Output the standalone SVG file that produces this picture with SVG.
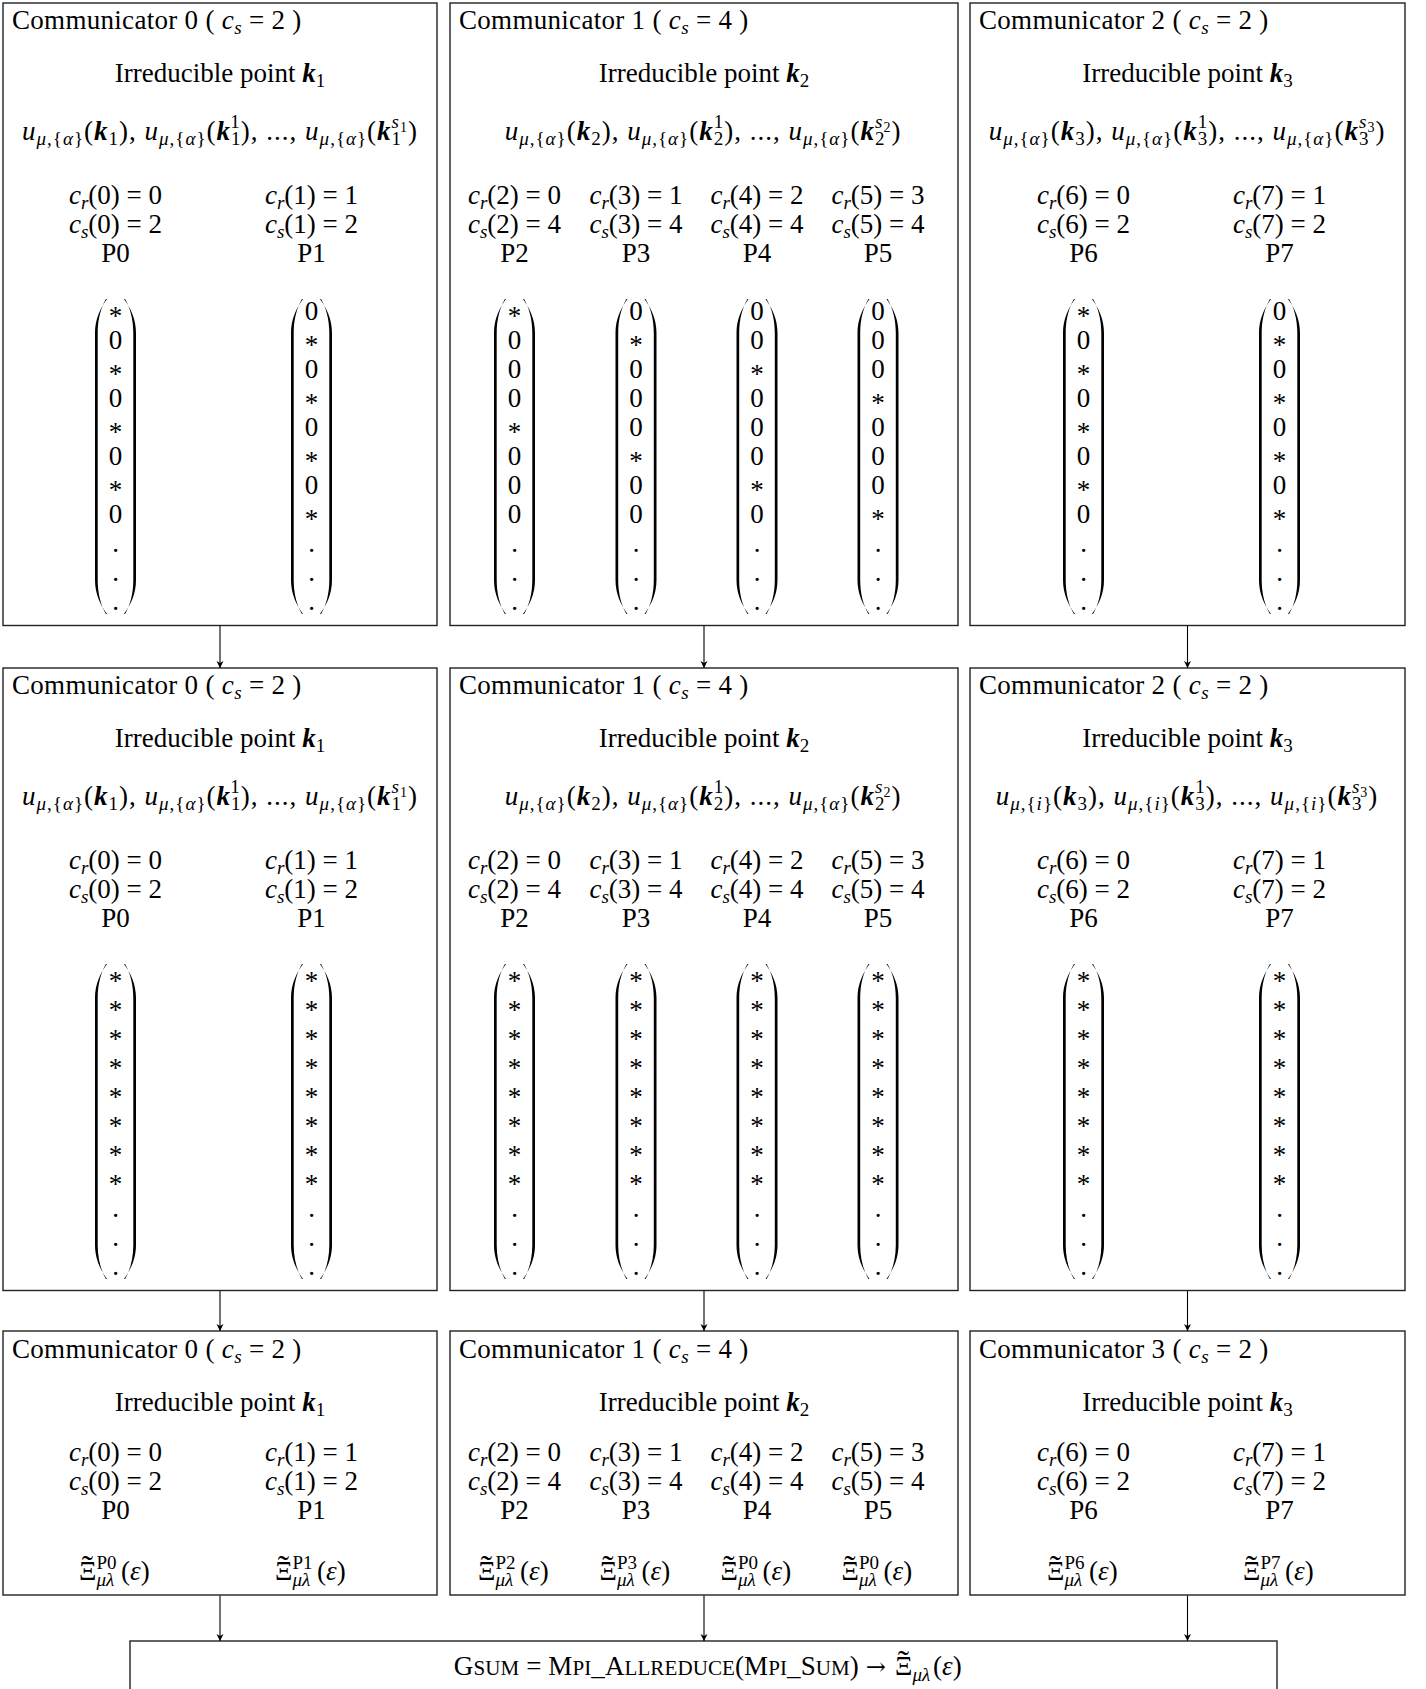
<svg xmlns="http://www.w3.org/2000/svg" width="1426" height="1689" viewBox="0 0 1426 1689">
<style>
.t{font-family:"Liberation Serif","Times New Roman",serif;font-size:27px;fill:#000}
.m{text-anchor:middle}
.i{font-style:italic}
.b{font-style:italic;font-weight:bold}
.s{font-size:19px}
.ss{font-size:14px}
.sc{font-size:21px}
.ul{text-anchor:middle;letter-spacing:1px}
.ttl{letter-spacing:0.3px}
.tl{font-size:34px}
.fin{letter-spacing:0.1px}
.arr{font-family:"DejaVu Serif",serif;font-size:24px}
.box{fill:#fff;stroke:#222;stroke-width:1.4}
.con line{stroke:#000;stroke-width:1.1;marker-end:url(#ah)}
.par{fill:#000}
</style>
<defs>
<path id="lp" class="par" d="M-8.5,0 C-15,9 -20.5,20 -20.5,34 L-20.5,281 C-20.5,295 -15,306 -8.5,315 L-9.6,315 C-14.6,306 -17.8,295 -17.8,281 L-17.8,34 C-17.8,20 -14.6,9 -9.6,0 Z"/>
<path id="rp" class="par" d="M8.5,0 C15,9 20.5,20 20.5,34 L20.5,281 C20.5,295 15,306 8.5,315 L9.6,315 C14.6,306 17.8,295 17.8,281 L17.8,34 C17.8,20 14.6,9 9.6,0 Z"/>
<marker id="ah" markerWidth="8" markerHeight="8" refX="7" refY="3.5" orient="auto" markerUnits="userSpaceOnUse"><path d="M0,0 L7,3.5 L0,7 L2,3.5 Z" fill="#000"/></marker>
</defs>
<rect x="0" y="0" width="1426" height="1689" fill="#fff"/>

<!-- ROW 1 -->
<g id="r1-comm0">
<rect class="box" x="3" y="3" width="434" height="622.5"/>
<text class="t ttl" x="12" y="28.5">Communicator 0 ( <tspan class="i">c</tspan><tspan class="s i" dy="5">s</tspan><tspan dy="-5"> = 2 )</tspan></text>
<text class="t m" x="220" y="82">Irreducible point <tspan class="b">k</tspan><tspan class="s" dy="5">1</tspan></text>
<text class="t ul" x="220" y="140"><tspan class="i">u</tspan><tspan class="s i" dy="5">μ</tspan><tspan class="s">,{</tspan><tspan class="s i">α</tspan><tspan class="s">}</tspan><tspan dy="-5">(</tspan><tspan class="b">k</tspan><tspan class="s" dy="5">1</tspan><tspan dy="-5">), </tspan><tspan class="i">u</tspan><tspan class="s i" dy="5">μ</tspan><tspan class="s">,{</tspan><tspan class="s i">α</tspan><tspan class="s">}</tspan><tspan dy="-5">(</tspan><tspan class="b">k</tspan><tspan class="s" dy="5">1</tspan><tspan class="s" dx="-10.5" dy="-17">1</tspan><tspan dy="12">), ..., </tspan><tspan class="i">u</tspan><tspan class="s i" dy="5">μ</tspan><tspan class="s">,{</tspan><tspan class="s i">α</tspan><tspan class="s">}</tspan><tspan dy="-5">(</tspan><tspan class="b">k</tspan><tspan class="s" dy="5">1</tspan><tspan class="s i" dx="-10.5" dy="-17">s</tspan><tspan class="ss" dy="4">1</tspan><tspan dy="8">)</tspan></text>
<text class="t m" x="115.5" y="204"><tspan class="i">c</tspan><tspan class="s i" dy="5">r</tspan><tspan dy="-5">(0) = 0</tspan></text>
<text class="t m" x="115.5" y="233"><tspan class="i">c</tspan><tspan class="s i" dy="5">s</tspan><tspan dy="-5">(0) = 2</tspan></text>
<text class="t m" x="115.5" y="262">P0</text>
<text class="t m" x="311.5" y="204"><tspan class="i">c</tspan><tspan class="s i" dy="5">r</tspan><tspan dy="-5">(1) = 1</tspan></text>
<text class="t m" x="311.5" y="233"><tspan class="i">c</tspan><tspan class="s i" dy="5">s</tspan><tspan dy="-5">(1) = 2</tspan></text>
<text class="t m" x="311.5" y="262">P1</text>
<use href="#lp" x="115.5" y="299"/><use href="#rp" x="115.5" y="299"/>
<text class="t m"><tspan x="115.5" y="325">*</tspan><tspan x="115.5" y="349">0</tspan><tspan x="115.5" y="383">*</tspan><tspan x="115.5" y="407">0</tspan><tspan x="115.5" y="441">*</tspan><tspan x="115.5" y="465">0</tspan><tspan x="115.5" y="499">*</tspan><tspan x="115.5" y="523">0</tspan><tspan x="115.5" y="552">.</tspan><tspan x="115.5" y="581">.</tspan><tspan x="115.5" y="610">.</tspan></text>
<use href="#lp" x="311.5" y="299"/><use href="#rp" x="311.5" y="299"/>
<text class="t m"><tspan x="311.5" y="320">0</tspan><tspan x="311.5" y="354">*</tspan><tspan x="311.5" y="378">0</tspan><tspan x="311.5" y="412">*</tspan><tspan x="311.5" y="436">0</tspan><tspan x="311.5" y="470">*</tspan><tspan x="311.5" y="494">0</tspan><tspan x="311.5" y="528">*</tspan><tspan x="311.5" y="552">.</tspan><tspan x="311.5" y="581">.</tspan><tspan x="311.5" y="610">.</tspan></text>
</g>

<g id="r1-comm1">
<rect class="box" x="450" y="3" width="508" height="622.5"/>
<text class="t ttl" x="459" y="28.5">Communicator 1 ( <tspan class="i">c</tspan><tspan class="s i" dy="5">s</tspan><tspan dy="-5"> = 4 )</tspan></text>
<text class="t m" x="704" y="82">Irreducible point <tspan class="b">k</tspan><tspan class="s" dy="5">2</tspan></text>
<text class="t ul" x="703" y="140"><tspan class="i">u</tspan><tspan class="s i" dy="5">μ</tspan><tspan class="s">,{</tspan><tspan class="s i">α</tspan><tspan class="s">}</tspan><tspan dy="-5">(</tspan><tspan class="b">k</tspan><tspan class="s" dy="5">2</tspan><tspan dy="-5">), </tspan><tspan class="i">u</tspan><tspan class="s i" dy="5">μ</tspan><tspan class="s">,{</tspan><tspan class="s i">α</tspan><tspan class="s">}</tspan><tspan dy="-5">(</tspan><tspan class="b">k</tspan><tspan class="s" dy="5">2</tspan><tspan class="s" dx="-10.5" dy="-17">1</tspan><tspan dy="12">), ..., </tspan><tspan class="i">u</tspan><tspan class="s i" dy="5">μ</tspan><tspan class="s">,{</tspan><tspan class="s i">α</tspan><tspan class="s">}</tspan><tspan dy="-5">(</tspan><tspan class="b">k</tspan><tspan class="s" dy="5">2</tspan><tspan class="s i" dx="-10.5" dy="-17">s</tspan><tspan class="ss" dy="4">2</tspan><tspan dy="8">)</tspan></text>
<text class="t m" x="514.5" y="204"><tspan class="i">c</tspan><tspan class="s i" dy="5">r</tspan><tspan dy="-5">(2) = 0</tspan></text>
<text class="t m" x="514.5" y="233"><tspan class="i">c</tspan><tspan class="s i" dy="5">s</tspan><tspan dy="-5">(2) = 4</tspan></text>
<text class="t m" x="514.5" y="262">P2</text>
<text class="t m" x="636" y="204"><tspan class="i">c</tspan><tspan class="s i" dy="5">r</tspan><tspan dy="-5">(3) = 1</tspan></text>
<text class="t m" x="636" y="233"><tspan class="i">c</tspan><tspan class="s i" dy="5">s</tspan><tspan dy="-5">(3) = 4</tspan></text>
<text class="t m" x="636" y="262">P3</text>
<text class="t m" x="757" y="204"><tspan class="i">c</tspan><tspan class="s i" dy="5">r</tspan><tspan dy="-5">(4) = 2</tspan></text>
<text class="t m" x="757" y="233"><tspan class="i">c</tspan><tspan class="s i" dy="5">s</tspan><tspan dy="-5">(4) = 4</tspan></text>
<text class="t m" x="757" y="262">P4</text>
<text class="t m" x="878" y="204"><tspan class="i">c</tspan><tspan class="s i" dy="5">r</tspan><tspan dy="-5">(5) = 3</tspan></text>
<text class="t m" x="878" y="233"><tspan class="i">c</tspan><tspan class="s i" dy="5">s</tspan><tspan dy="-5">(5) = 4</tspan></text>
<text class="t m" x="878" y="262">P5</text>
<use href="#lp" x="514.5" y="299"/><use href="#rp" x="514.5" y="299"/>
<text class="t m"><tspan x="514.5" y="325">*</tspan><tspan x="514.5" y="349">0</tspan><tspan x="514.5" y="378">0</tspan><tspan x="514.5" y="407">0</tspan><tspan x="514.5" y="441">*</tspan><tspan x="514.5" y="465">0</tspan><tspan x="514.5" y="494">0</tspan><tspan x="514.5" y="523">0</tspan><tspan x="514.5" y="552">.</tspan><tspan x="514.5" y="581">.</tspan><tspan x="514.5" y="610">.</tspan></text>
<use href="#lp" x="636" y="299"/><use href="#rp" x="636" y="299"/>
<text class="t m"><tspan x="636" y="320">0</tspan><tspan x="636" y="354">*</tspan><tspan x="636" y="378">0</tspan><tspan x="636" y="407">0</tspan><tspan x="636" y="436">0</tspan><tspan x="636" y="470">*</tspan><tspan x="636" y="494">0</tspan><tspan x="636" y="523">0</tspan><tspan x="636" y="552">.</tspan><tspan x="636" y="581">.</tspan><tspan x="636" y="610">.</tspan></text>
<use href="#lp" x="757" y="299"/><use href="#rp" x="757" y="299"/>
<text class="t m"><tspan x="757" y="320">0</tspan><tspan x="757" y="349">0</tspan><tspan x="757" y="383">*</tspan><tspan x="757" y="407">0</tspan><tspan x="757" y="436">0</tspan><tspan x="757" y="465">0</tspan><tspan x="757" y="499">*</tspan><tspan x="757" y="523">0</tspan><tspan x="757" y="552">.</tspan><tspan x="757" y="581">.</tspan><tspan x="757" y="610">.</tspan></text>
<use href="#lp" x="878" y="299"/><use href="#rp" x="878" y="299"/>
<text class="t m"><tspan x="878" y="320">0</tspan><tspan x="878" y="349">0</tspan><tspan x="878" y="378">0</tspan><tspan x="878" y="412">*</tspan><tspan x="878" y="436">0</tspan><tspan x="878" y="465">0</tspan><tspan x="878" y="494">0</tspan><tspan x="878" y="528">*</tspan><tspan x="878" y="552">.</tspan><tspan x="878" y="581">.</tspan><tspan x="878" y="610">.</tspan></text>
</g>

<g id="r1-comm2">
<rect class="box" x="970" y="3" width="435" height="622.5"/>
<text class="t ttl" x="979" y="28.5">Communicator 2 ( <tspan class="i">c</tspan><tspan class="s i" dy="5">s</tspan><tspan dy="-5"> = 2 )</tspan></text>
<text class="t m" x="1187.5" y="82">Irreducible point <tspan class="b">k</tspan><tspan class="s" dy="5">3</tspan></text>
<text class="t ul" x="1187" y="140"><tspan class="i">u</tspan><tspan class="s i" dy="5">μ</tspan><tspan class="s">,{</tspan><tspan class="s i">α</tspan><tspan class="s">}</tspan><tspan dy="-5">(</tspan><tspan class="b">k</tspan><tspan class="s" dy="5">3</tspan><tspan dy="-5">), </tspan><tspan class="i">u</tspan><tspan class="s i" dy="5">μ</tspan><tspan class="s">,{</tspan><tspan class="s i">α</tspan><tspan class="s">}</tspan><tspan dy="-5">(</tspan><tspan class="b">k</tspan><tspan class="s" dy="5">3</tspan><tspan class="s" dx="-10.5" dy="-17">1</tspan><tspan dy="12">), ..., </tspan><tspan class="i">u</tspan><tspan class="s i" dy="5">μ</tspan><tspan class="s">,{</tspan><tspan class="s i">α</tspan><tspan class="s">}</tspan><tspan dy="-5">(</tspan><tspan class="b">k</tspan><tspan class="s" dy="5">3</tspan><tspan class="s i" dx="-10.5" dy="-17">s</tspan><tspan class="ss" dy="4">3</tspan><tspan dy="8">)</tspan></text>
<text class="t m" x="1083.5" y="204"><tspan class="i">c</tspan><tspan class="s i" dy="5">r</tspan><tspan dy="-5">(6) = 0</tspan></text>
<text class="t m" x="1083.5" y="233"><tspan class="i">c</tspan><tspan class="s i" dy="5">s</tspan><tspan dy="-5">(6) = 2</tspan></text>
<text class="t m" x="1083.5" y="262">P6</text>
<text class="t m" x="1279.5" y="204"><tspan class="i">c</tspan><tspan class="s i" dy="5">r</tspan><tspan dy="-5">(7) = 1</tspan></text>
<text class="t m" x="1279.5" y="233"><tspan class="i">c</tspan><tspan class="s i" dy="5">s</tspan><tspan dy="-5">(7) = 2</tspan></text>
<text class="t m" x="1279.5" y="262">P7</text>
<use href="#lp" x="1083.5" y="299"/><use href="#rp" x="1083.5" y="299"/>
<text class="t m"><tspan x="1083.5" y="325">*</tspan><tspan x="1083.5" y="349">0</tspan><tspan x="1083.5" y="383">*</tspan><tspan x="1083.5" y="407">0</tspan><tspan x="1083.5" y="441">*</tspan><tspan x="1083.5" y="465">0</tspan><tspan x="1083.5" y="499">*</tspan><tspan x="1083.5" y="523">0</tspan><tspan x="1083.5" y="552">.</tspan><tspan x="1083.5" y="581">.</tspan><tspan x="1083.5" y="610">.</tspan></text>
<use href="#lp" x="1279.5" y="299"/><use href="#rp" x="1279.5" y="299"/>
<text class="t m"><tspan x="1279.5" y="320">0</tspan><tspan x="1279.5" y="354">*</tspan><tspan x="1279.5" y="378">0</tspan><tspan x="1279.5" y="412">*</tspan><tspan x="1279.5" y="436">0</tspan><tspan x="1279.5" y="470">*</tspan><tspan x="1279.5" y="494">0</tspan><tspan x="1279.5" y="528">*</tspan><tspan x="1279.5" y="552">.</tspan><tspan x="1279.5" y="581">.</tspan><tspan x="1279.5" y="610">.</tspan></text>
</g>

<!-- ROW 2 -->
<g id="r2-comm0">
<rect class="box" x="3" y="668" width="434" height="622.5"/>
<text class="t ttl" x="12" y="693.5">Communicator 0 ( <tspan class="i">c</tspan><tspan class="s i" dy="5">s</tspan><tspan dy="-5"> = 2 )</tspan></text>
<text class="t m" x="220" y="747">Irreducible point <tspan class="b">k</tspan><tspan class="s" dy="5">1</tspan></text>
<text class="t ul" x="220" y="805"><tspan class="i">u</tspan><tspan class="s i" dy="5">μ</tspan><tspan class="s">,{</tspan><tspan class="s i">α</tspan><tspan class="s">}</tspan><tspan dy="-5">(</tspan><tspan class="b">k</tspan><tspan class="s" dy="5">1</tspan><tspan dy="-5">), </tspan><tspan class="i">u</tspan><tspan class="s i" dy="5">μ</tspan><tspan class="s">,{</tspan><tspan class="s i">α</tspan><tspan class="s">}</tspan><tspan dy="-5">(</tspan><tspan class="b">k</tspan><tspan class="s" dy="5">1</tspan><tspan class="s" dx="-10.5" dy="-17">1</tspan><tspan dy="12">), ..., </tspan><tspan class="i">u</tspan><tspan class="s i" dy="5">μ</tspan><tspan class="s">,{</tspan><tspan class="s i">α</tspan><tspan class="s">}</tspan><tspan dy="-5">(</tspan><tspan class="b">k</tspan><tspan class="s" dy="5">1</tspan><tspan class="s i" dx="-10.5" dy="-17">s</tspan><tspan class="ss" dy="4">1</tspan><tspan dy="8">)</tspan></text>
<text class="t m" x="115.5" y="869"><tspan class="i">c</tspan><tspan class="s i" dy="5">r</tspan><tspan dy="-5">(0) = 0</tspan></text>
<text class="t m" x="115.5" y="898"><tspan class="i">c</tspan><tspan class="s i" dy="5">s</tspan><tspan dy="-5">(0) = 2</tspan></text>
<text class="t m" x="115.5" y="927">P0</text>
<text class="t m" x="311.5" y="869"><tspan class="i">c</tspan><tspan class="s i" dy="5">r</tspan><tspan dy="-5">(1) = 1</tspan></text>
<text class="t m" x="311.5" y="898"><tspan class="i">c</tspan><tspan class="s i" dy="5">s</tspan><tspan dy="-5">(1) = 2</tspan></text>
<text class="t m" x="311.5" y="927">P1</text>
<use href="#lp" x="115.5" y="964"/><use href="#rp" x="115.5" y="964"/>
<text class="t m"><tspan x="115.5" y="990">*</tspan><tspan x="115.5" y="1019">*</tspan><tspan x="115.5" y="1048">*</tspan><tspan x="115.5" y="1077">*</tspan><tspan x="115.5" y="1106">*</tspan><tspan x="115.5" y="1135">*</tspan><tspan x="115.5" y="1164">*</tspan><tspan x="115.5" y="1193">*</tspan><tspan x="115.5" y="1217">.</tspan><tspan x="115.5" y="1246">.</tspan><tspan x="115.5" y="1275">.</tspan></text>
<use href="#lp" x="311.5" y="964"/><use href="#rp" x="311.5" y="964"/>
<text class="t m"><tspan x="311.5" y="990">*</tspan><tspan x="311.5" y="1019">*</tspan><tspan x="311.5" y="1048">*</tspan><tspan x="311.5" y="1077">*</tspan><tspan x="311.5" y="1106">*</tspan><tspan x="311.5" y="1135">*</tspan><tspan x="311.5" y="1164">*</tspan><tspan x="311.5" y="1193">*</tspan><tspan x="311.5" y="1217">.</tspan><tspan x="311.5" y="1246">.</tspan><tspan x="311.5" y="1275">.</tspan></text>
</g>

<g id="r2-comm1">
<rect class="box" x="450" y="668" width="508" height="622.5"/>
<text class="t ttl" x="459" y="693.5">Communicator 1 ( <tspan class="i">c</tspan><tspan class="s i" dy="5">s</tspan><tspan dy="-5"> = 4 )</tspan></text>
<text class="t m" x="704" y="747">Irreducible point <tspan class="b">k</tspan><tspan class="s" dy="5">2</tspan></text>
<text class="t ul" x="703" y="805"><tspan class="i">u</tspan><tspan class="s i" dy="5">μ</tspan><tspan class="s">,{</tspan><tspan class="s i">α</tspan><tspan class="s">}</tspan><tspan dy="-5">(</tspan><tspan class="b">k</tspan><tspan class="s" dy="5">2</tspan><tspan dy="-5">), </tspan><tspan class="i">u</tspan><tspan class="s i" dy="5">μ</tspan><tspan class="s">,{</tspan><tspan class="s i">α</tspan><tspan class="s">}</tspan><tspan dy="-5">(</tspan><tspan class="b">k</tspan><tspan class="s" dy="5">2</tspan><tspan class="s" dx="-10.5" dy="-17">1</tspan><tspan dy="12">), ..., </tspan><tspan class="i">u</tspan><tspan class="s i" dy="5">μ</tspan><tspan class="s">,{</tspan><tspan class="s i">α</tspan><tspan class="s">}</tspan><tspan dy="-5">(</tspan><tspan class="b">k</tspan><tspan class="s" dy="5">2</tspan><tspan class="s i" dx="-10.5" dy="-17">s</tspan><tspan class="ss" dy="4">2</tspan><tspan dy="8">)</tspan></text>
<text class="t m" x="514.5" y="869"><tspan class="i">c</tspan><tspan class="s i" dy="5">r</tspan><tspan dy="-5">(2) = 0</tspan></text>
<text class="t m" x="514.5" y="898"><tspan class="i">c</tspan><tspan class="s i" dy="5">s</tspan><tspan dy="-5">(2) = 4</tspan></text>
<text class="t m" x="514.5" y="927">P2</text>
<text class="t m" x="636" y="869"><tspan class="i">c</tspan><tspan class="s i" dy="5">r</tspan><tspan dy="-5">(3) = 1</tspan></text>
<text class="t m" x="636" y="898"><tspan class="i">c</tspan><tspan class="s i" dy="5">s</tspan><tspan dy="-5">(3) = 4</tspan></text>
<text class="t m" x="636" y="927">P3</text>
<text class="t m" x="757" y="869"><tspan class="i">c</tspan><tspan class="s i" dy="5">r</tspan><tspan dy="-5">(4) = 2</tspan></text>
<text class="t m" x="757" y="898"><tspan class="i">c</tspan><tspan class="s i" dy="5">s</tspan><tspan dy="-5">(4) = 4</tspan></text>
<text class="t m" x="757" y="927">P4</text>
<text class="t m" x="878" y="869"><tspan class="i">c</tspan><tspan class="s i" dy="5">r</tspan><tspan dy="-5">(5) = 3</tspan></text>
<text class="t m" x="878" y="898"><tspan class="i">c</tspan><tspan class="s i" dy="5">s</tspan><tspan dy="-5">(5) = 4</tspan></text>
<text class="t m" x="878" y="927">P5</text>
<use href="#lp" x="514.5" y="964"/><use href="#rp" x="514.5" y="964"/>
<text class="t m"><tspan x="514.5" y="990">*</tspan><tspan x="514.5" y="1019">*</tspan><tspan x="514.5" y="1048">*</tspan><tspan x="514.5" y="1077">*</tspan><tspan x="514.5" y="1106">*</tspan><tspan x="514.5" y="1135">*</tspan><tspan x="514.5" y="1164">*</tspan><tspan x="514.5" y="1193">*</tspan><tspan x="514.5" y="1217">.</tspan><tspan x="514.5" y="1246">.</tspan><tspan x="514.5" y="1275">.</tspan></text>
<use href="#lp" x="636" y="964"/><use href="#rp" x="636" y="964"/>
<text class="t m"><tspan x="636" y="990">*</tspan><tspan x="636" y="1019">*</tspan><tspan x="636" y="1048">*</tspan><tspan x="636" y="1077">*</tspan><tspan x="636" y="1106">*</tspan><tspan x="636" y="1135">*</tspan><tspan x="636" y="1164">*</tspan><tspan x="636" y="1193">*</tspan><tspan x="636" y="1217">.</tspan><tspan x="636" y="1246">.</tspan><tspan x="636" y="1275">.</tspan></text>
<use href="#lp" x="757" y="964"/><use href="#rp" x="757" y="964"/>
<text class="t m"><tspan x="757" y="990">*</tspan><tspan x="757" y="1019">*</tspan><tspan x="757" y="1048">*</tspan><tspan x="757" y="1077">*</tspan><tspan x="757" y="1106">*</tspan><tspan x="757" y="1135">*</tspan><tspan x="757" y="1164">*</tspan><tspan x="757" y="1193">*</tspan><tspan x="757" y="1217">.</tspan><tspan x="757" y="1246">.</tspan><tspan x="757" y="1275">.</tspan></text>
<use href="#lp" x="878" y="964"/><use href="#rp" x="878" y="964"/>
<text class="t m"><tspan x="878" y="990">*</tspan><tspan x="878" y="1019">*</tspan><tspan x="878" y="1048">*</tspan><tspan x="878" y="1077">*</tspan><tspan x="878" y="1106">*</tspan><tspan x="878" y="1135">*</tspan><tspan x="878" y="1164">*</tspan><tspan x="878" y="1193">*</tspan><tspan x="878" y="1217">.</tspan><tspan x="878" y="1246">.</tspan><tspan x="878" y="1275">.</tspan></text>
</g>

<g id="r2-comm2">
<rect class="box" x="970" y="668" width="435" height="622.5"/>
<text class="t ttl" x="979" y="693.5">Communicator 2 ( <tspan class="i">c</tspan><tspan class="s i" dy="5">s</tspan><tspan dy="-5"> = 2 )</tspan></text>
<text class="t m" x="1187.5" y="747">Irreducible point <tspan class="b">k</tspan><tspan class="s" dy="5">3</tspan></text>
<text class="t ul" x="1187" y="805"><tspan class="i">u</tspan><tspan class="s i" dy="5">μ</tspan><tspan class="s">,{</tspan><tspan class="s i">i</tspan><tspan class="s">}</tspan><tspan dy="-5">(</tspan><tspan class="b">k</tspan><tspan class="s" dy="5">3</tspan><tspan dy="-5">), </tspan><tspan class="i">u</tspan><tspan class="s i" dy="5">μ</tspan><tspan class="s">,{</tspan><tspan class="s i">i</tspan><tspan class="s">}</tspan><tspan dy="-5">(</tspan><tspan class="b">k</tspan><tspan class="s" dy="5">3</tspan><tspan class="s" dx="-10.5" dy="-17">1</tspan><tspan dy="12">), ..., </tspan><tspan class="i">u</tspan><tspan class="s i" dy="5">μ</tspan><tspan class="s">,{</tspan><tspan class="s i">i</tspan><tspan class="s">}</tspan><tspan dy="-5">(</tspan><tspan class="b">k</tspan><tspan class="s" dy="5">3</tspan><tspan class="s i" dx="-10.5" dy="-17">s</tspan><tspan class="ss" dy="4">3</tspan><tspan dy="8">)</tspan></text>
<text class="t m" x="1083.5" y="869"><tspan class="i">c</tspan><tspan class="s i" dy="5">r</tspan><tspan dy="-5">(6) = 0</tspan></text>
<text class="t m" x="1083.5" y="898"><tspan class="i">c</tspan><tspan class="s i" dy="5">s</tspan><tspan dy="-5">(6) = 2</tspan></text>
<text class="t m" x="1083.5" y="927">P6</text>
<text class="t m" x="1279.5" y="869"><tspan class="i">c</tspan><tspan class="s i" dy="5">r</tspan><tspan dy="-5">(7) = 1</tspan></text>
<text class="t m" x="1279.5" y="898"><tspan class="i">c</tspan><tspan class="s i" dy="5">s</tspan><tspan dy="-5">(7) = 2</tspan></text>
<text class="t m" x="1279.5" y="927">P7</text>
<use href="#lp" x="1083.5" y="964"/><use href="#rp" x="1083.5" y="964"/>
<text class="t m"><tspan x="1083.5" y="990">*</tspan><tspan x="1083.5" y="1019">*</tspan><tspan x="1083.5" y="1048">*</tspan><tspan x="1083.5" y="1077">*</tspan><tspan x="1083.5" y="1106">*</tspan><tspan x="1083.5" y="1135">*</tspan><tspan x="1083.5" y="1164">*</tspan><tspan x="1083.5" y="1193">*</tspan><tspan x="1083.5" y="1217">.</tspan><tspan x="1083.5" y="1246">.</tspan><tspan x="1083.5" y="1275">.</tspan></text>
<use href="#lp" x="1279.5" y="964"/><use href="#rp" x="1279.5" y="964"/>
<text class="t m"><tspan x="1279.5" y="990">*</tspan><tspan x="1279.5" y="1019">*</tspan><tspan x="1279.5" y="1048">*</tspan><tspan x="1279.5" y="1077">*</tspan><tspan x="1279.5" y="1106">*</tspan><tspan x="1279.5" y="1135">*</tspan><tspan x="1279.5" y="1164">*</tspan><tspan x="1279.5" y="1193">*</tspan><tspan x="1279.5" y="1217">.</tspan><tspan x="1279.5" y="1246">.</tspan><tspan x="1279.5" y="1275">.</tspan></text>
</g>

<!-- ROW 3 -->
<g id="r3-comm0">
<rect class="box" x="3" y="1331" width="434" height="264"/>
<text class="t ttl" x="12" y="1357.5">Communicator 0 ( <tspan class="i">c</tspan><tspan class="s i" dy="5">s</tspan><tspan dy="-5"> = 2 )</tspan></text>
<text class="t m" x="220" y="1411">Irreducible point <tspan class="b">k</tspan><tspan class="s" dy="5">1</tspan></text>
<text class="t m" x="115.5" y="1461"><tspan class="i">c</tspan><tspan class="s i" dy="5">r</tspan><tspan dy="-5">(0) = 0</tspan></text>
<text class="t m" x="115.5" y="1490"><tspan class="i">c</tspan><tspan class="s i" dy="5">s</tspan><tspan dy="-5">(0) = 2</tspan></text>
<text class="t m" x="115.5" y="1519">P0</text>
<text class="t m" x="311.5" y="1461"><tspan class="i">c</tspan><tspan class="s i" dy="5">r</tspan><tspan dy="-5">(1) = 1</tspan></text>
<text class="t m" x="311.5" y="1490"><tspan class="i">c</tspan><tspan class="s i" dy="5">s</tspan><tspan dy="-5">(1) = 2</tspan></text>
<text class="t m" x="311.5" y="1519">P1</text>
<text class="t"><tspan class="tl" x="81.8" y="1579">˜</tspan><tspan x="79" y="1580">Ξ</tspan><tspan class="s" x="96.5" y="1569">P0</tspan><tspan class="s i" x="96.5" y="1586">μλ</tspan><tspan x="121" y="1580">(</tspan><tspan class="i">ε</tspan>)</text>
<text class="t"><tspan class="tl" x="277.8" y="1579">˜</tspan><tspan x="275" y="1580">Ξ</tspan><tspan class="s" x="292.5" y="1569">P1</tspan><tspan class="s i" x="292.5" y="1586">μλ</tspan><tspan x="317" y="1580">(</tspan><tspan class="i">ε</tspan>)</text>
</g>

<g id="r3-comm1">
<rect class="box" x="450" y="1331" width="508" height="264"/>
<text class="t ttl" x="459" y="1357.5">Communicator 1 ( <tspan class="i">c</tspan><tspan class="s i" dy="5">s</tspan><tspan dy="-5"> = 4 )</tspan></text>
<text class="t m" x="704" y="1411">Irreducible point <tspan class="b">k</tspan><tspan class="s" dy="5">2</tspan></text>
<text class="t m" x="514.5" y="1461"><tspan class="i">c</tspan><tspan class="s i" dy="5">r</tspan><tspan dy="-5">(2) = 0</tspan></text>
<text class="t m" x="514.5" y="1490"><tspan class="i">c</tspan><tspan class="s i" dy="5">s</tspan><tspan dy="-5">(2) = 4</tspan></text>
<text class="t m" x="514.5" y="1519">P2</text>
<text class="t m" x="636" y="1461"><tspan class="i">c</tspan><tspan class="s i" dy="5">r</tspan><tspan dy="-5">(3) = 1</tspan></text>
<text class="t m" x="636" y="1490"><tspan class="i">c</tspan><tspan class="s i" dy="5">s</tspan><tspan dy="-5">(3) = 4</tspan></text>
<text class="t m" x="636" y="1519">P3</text>
<text class="t m" x="757" y="1461"><tspan class="i">c</tspan><tspan class="s i" dy="5">r</tspan><tspan dy="-5">(4) = 2</tspan></text>
<text class="t m" x="757" y="1490"><tspan class="i">c</tspan><tspan class="s i" dy="5">s</tspan><tspan dy="-5">(4) = 4</tspan></text>
<text class="t m" x="757" y="1519">P4</text>
<text class="t m" x="878" y="1461"><tspan class="i">c</tspan><tspan class="s i" dy="5">r</tspan><tspan dy="-5">(5) = 3</tspan></text>
<text class="t m" x="878" y="1490"><tspan class="i">c</tspan><tspan class="s i" dy="5">s</tspan><tspan dy="-5">(5) = 4</tspan></text>
<text class="t m" x="878" y="1519">P5</text>
<text class="t"><tspan class="tl" x="480.8" y="1579">˜</tspan><tspan x="478" y="1580">Ξ</tspan><tspan class="s" x="495.5" y="1569">P2</tspan><tspan class="s i" x="495.5" y="1586">μλ</tspan><tspan x="520" y="1580">(</tspan><tspan class="i">ε</tspan>)</text>
<text class="t"><tspan class="tl" x="602.3" y="1579">˜</tspan><tspan x="599.5" y="1580">Ξ</tspan><tspan class="s" x="617" y="1569">P3</tspan><tspan class="s i" x="617" y="1586">μλ</tspan><tspan x="641.5" y="1580">(</tspan><tspan class="i">ε</tspan>)</text>
<text class="t"><tspan class="tl" x="723.3" y="1579">˜</tspan><tspan x="720.5" y="1580">Ξ</tspan><tspan class="s" x="738" y="1569">P0</tspan><tspan class="s i" x="738" y="1586">μλ</tspan><tspan x="762.5" y="1580">(</tspan><tspan class="i">ε</tspan>)</text>
<text class="t"><tspan class="tl" x="844.3" y="1579">˜</tspan><tspan x="841.5" y="1580">Ξ</tspan><tspan class="s" x="859" y="1569">P0</tspan><tspan class="s i" x="859" y="1586">μλ</tspan><tspan x="883.5" y="1580">(</tspan><tspan class="i">ε</tspan>)</text>
</g>

<g id="r3-comm3">
<rect class="box" x="970" y="1331" width="435" height="264"/>
<text class="t ttl" x="979" y="1357.5">Communicator 3 ( <tspan class="i">c</tspan><tspan class="s i" dy="5">s</tspan><tspan dy="-5"> = 2 )</tspan></text>
<text class="t m" x="1187.5" y="1411">Irreducible point <tspan class="b">k</tspan><tspan class="s" dy="5">3</tspan></text>
<text class="t m" x="1083.5" y="1461"><tspan class="i">c</tspan><tspan class="s i" dy="5">r</tspan><tspan dy="-5">(6) = 0</tspan></text>
<text class="t m" x="1083.5" y="1490"><tspan class="i">c</tspan><tspan class="s i" dy="5">s</tspan><tspan dy="-5">(6) = 2</tspan></text>
<text class="t m" x="1083.5" y="1519">P6</text>
<text class="t m" x="1279.5" y="1461"><tspan class="i">c</tspan><tspan class="s i" dy="5">r</tspan><tspan dy="-5">(7) = 1</tspan></text>
<text class="t m" x="1279.5" y="1490"><tspan class="i">c</tspan><tspan class="s i" dy="5">s</tspan><tspan dy="-5">(7) = 2</tspan></text>
<text class="t m" x="1279.5" y="1519">P7</text>
<text class="t"><tspan class="tl" x="1049.8" y="1579">˜</tspan><tspan x="1047" y="1580">Ξ</tspan><tspan class="s" x="1064.5" y="1569">P6</tspan><tspan class="s i" x="1064.5" y="1586">μλ</tspan><tspan x="1089" y="1580">(</tspan><tspan class="i">ε</tspan>)</text>
<text class="t"><tspan class="tl" x="1245.8" y="1579">˜</tspan><tspan x="1243" y="1580">Ξ</tspan><tspan class="s" x="1260.5" y="1569">P7</tspan><tspan class="s i" x="1260.5" y="1586">μλ</tspan><tspan x="1285" y="1580">(</tspan><tspan class="i">ε</tspan>)</text>
</g>

<!-- FINAL -->
<g id="gsum">
<rect class="box" x="130" y="1641" width="1147" height="100"/>
<text class="t fin" x="886" y="1675" text-anchor="end">G<tspan class="sc">SUM</tspan> = M<tspan class="sc">PI</tspan>_A<tspan class="sc">LLREDUCE</tspan>(M<tspan class="sc">PI</tspan>_S<tspan class="sc">UM</tspan>) <tspan class="arr">→</tspan></text>
<text class="t"><tspan class="tl" x="897.8" y="1674">˜</tspan><tspan x="895" y="1675">Ξ</tspan><tspan class="s i" x="912.5" y="1681">μλ</tspan><tspan x="933" y="1675">(</tspan><tspan class="i">ε</tspan>)</text>
</g>

<g id="connectors" class="con">
<line x1="220" y1="626" x2="220" y2="668"/>
<line x1="704" y1="626" x2="704" y2="668"/>
<line x1="1187.5" y1="626" x2="1187.5" y2="668"/>
<line x1="220" y1="1291" x2="220" y2="1331"/>
<line x1="704" y1="1291" x2="704" y2="1331"/>
<line x1="1187.5" y1="1291" x2="1187.5" y2="1331"/>
<line x1="220" y1="1595.5" x2="220" y2="1641"/>
<line x1="704" y1="1595.5" x2="704" y2="1641"/>
<line x1="1187.5" y1="1595.5" x2="1187.5" y2="1641"/>
</g>
</svg>
